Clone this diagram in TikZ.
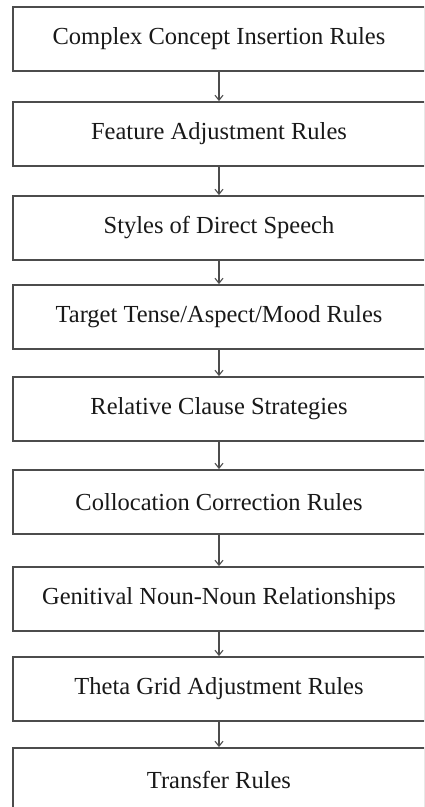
\documentclass[tikz,border=0pt]{standalone}
\usepackage{fontspec}
\setmainfont{Liberation Serif}
\usetikzlibrary{arrows.meta}

\tikzset{
	rulebox/.style={draw=black!70, line width=1.8pt, fill=white,
		minimum width=412pt, minimum height=64pt, inner sep=0pt,
		font=\fontsize{24.5}{29}\selectfont, text=black!90},
	flow/.style={draw=black!70, line width=1.1pt, -{Straight Barb[length=5pt,width=8pt]}}
}

\begin{document}
\begin{tikzpicture}[x=1pt,y=-1pt]
	\useasboundingbox (0,0) rectangle (424,807);
	\clip (0,0) rectangle (424,807);
	\fill[white] (0,0) rectangle (424,807);
	
	% rule stages
	\node[rulebox] (cci)  at (219,39)  {Complex Concept Insertion Rules};
	\node[rulebox] (feat) at (219,134) {Feature Adjustment Rules};
	\node[rulebox] (dsp)  at (219,228) {Styles of Direct Speech};
	\node[rulebox] (tam)  at (219,317) {Target Tense/Aspect/Mood Rules};
	\node[rulebox] (rel)  at (219,409) {Relative Clause Strategies};
	\node[rulebox] (coll) at (219,502) {Collocation Correction Rules};
	\node[rulebox] (gen)  at (219,599) {Genitival Noun-Noun Relationships};
	\node[rulebox] (theta) at (219,689) {Theta Grid Adjustment Rules};
	\node[rulebox] (trans) at (219,780) {Transfer Rules};
	
	% arrows between stages
	\foreach \a/\b in {cci/feat, feat/dsp, dsp/tam, tam/rel, rel/coll, coll/gen, gen/theta, theta/trans}
		\draw[flow] (\a.south) -- (\b.north);
	
\end{tikzpicture}
\end{document}
